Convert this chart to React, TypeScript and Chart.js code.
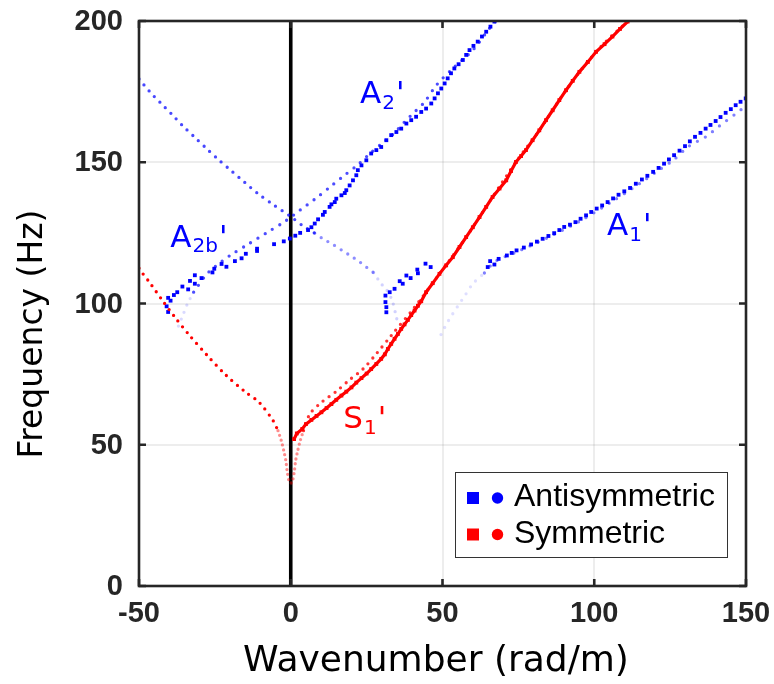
import React, { useEffect, useRef } from "react";
import { Chart, registerables } from "chart.js";
Chart.register(...registerables);

const xTicks = [-50, 0, 50, 100, 150];
const yTicks = [0, 50, 100, 150, 200];

// Antisymmetric, measured (squares)
const antiMeasA2 = [
  [-40.9, 99], [-40.4, 97], [-40.4, 102], [-39.6, 101], [-38.5, 103], [-37.4, 104], [-35.7, 106], [-33.8, 105],
  [-33.2, 108], [-31.6, 110], [-31.6, 107], [-29.4, 109], [-25.8, 111], [-25.2, 112.3], [-22.8, 114], [-21.2, 113],
  [-18.4, 115], [-16.2, 116], [-14.8, 117.6], [-11.1, 119.4], [-11.1, 118.6], [-5.5, 121], [-2.3, 122], [-0.3, 123],
  [1.5, 124], [3.1, 125], [5.7, 126], [6.8, 127], [7.9, 128.3], [9, 129.8], [10.6, 131.4], [11.2, 132.4],
  [12.8, 134.2], [13.4, 135.1], [14.5, 135.9], [15, 137.1], [16.7, 138.3], [17.8, 139.1], [18.3, 140.1], [19.4, 141.8],
  [20.5, 143.6], [21.6, 145.4], [22.1, 147.2], [23.3, 148.9], [24.9, 150.7], [26.5, 153.1], [28.2, 154.3], [29.8, 155.4],
  [31.5, 157.8], [33.1, 159.6], [34.8, 160.7], [36.4, 161.9], [38.1, 163.7], [39.7, 164.9], [41.3, 166.1], [43, 167.8],
  [44.6, 169], [46.3, 170.8], [47.4, 172.6], [48.5, 174.4], [49.6, 176.1], [50.7, 177.9], [51.7, 179.7], [52.8, 181.5],
  [53.9, 183.2], [55.3, 184.7], [56.7, 186.2], [57.8, 188], [58.9, 189.7], [60.2, 191.2], [61.6, 192.7], [63, 194.5],
  [64.4, 196.2], [65.8, 198], [67.1, 199.8],
];
const antiMeasA2Low = [
  [31.2, 102.8], [31.2, 100.5], [31.5, 98.7], [31.5, 96.9], [32.6, 104], [34.2, 105.2], [35.9, 107.9], [36.9, 107],
  [38.1, 109.9], [39.5, 109], [41.7, 112], [41.9, 110.7], [44.4, 114.1], [46.1, 112.9],
];
const antiMeasA1 = [
  [64.9, 112.9], [65.7, 115], [67.1, 113.8], [68.5, 115.8], [71.2, 117], [72.8, 117.9], [74.4, 118.8], [76.8, 119.8],
  [79.2, 120.9], [81.1, 121.9], [83, 122.9], [84.9, 123.9], [86.8, 124.9], [88.5, 126], [90.1, 127.1], [92, 127.9],
  [93.8, 128.8], [95.5, 130], [97.3, 131.2], [99, 132.4], [100.8, 133.6], [102.6, 134.7], [104.4, 135.9], [106.2, 137.2],
  [108, 138.5], [109.9, 139.7], [111.8, 140.9], [113.7, 142.4], [115.7, 143.9], [117.5, 145.2], [119.4, 146.6], [121.2, 148],
  [123, 149.5], [124.6, 151], [126.3, 152.5], [128.1, 154.1], [129.9, 155.7], [131.5, 157.4], [133.2, 159], [135, 160.4],
  [136.7, 161.9], [138.3, 163.2], [140, 164.6], [141.6, 166], [143.3, 167.5], [145, 168.8], [146.6, 170.2], [148.2, 171.4],
  [149.9, 172.6],
];

// Symmetric, measured (squares)
const symMeasS1 = [
  [1.1, 52], [2, 54], [3.8, 55.6], [5, 57.3], [6.8, 58.8], [8.5, 60.2], [10.1, 61.5], [11.8, 63], [13.4, 64.4],
  [15, 65.9], [16.7, 67.4], [18.3, 68.8], [20, 70.3], [21.6, 72], [23.3, 73.6], [25, 75.2], [26.5, 76.8], [28.2, 78.6],
  [29.8, 80.4], [31, 82], [32, 83.9], [33.1, 85.7], [34.2, 87.5], [35.3, 89.2], [36.4, 91], [37.5, 92.6], [38.6, 94.2],
  [39.7, 95.9], [40.8, 97.5], [41.9, 99.2], [43, 100.8], [44.6, 104], [46.8, 107.2], [49, 110.5], [51.2, 113.5],
  [53.4, 116.4], [55.6, 120], [57.8, 123.5], [60, 127], [62.2, 130.6], [64.4, 134.2], [66.5, 137.7], [68.8, 140.7],
  [71, 143.6], [72.6, 146.9], [74.2, 150.1], [75.9, 152.2], [77.5, 154.3], [79.7, 157.8], [81.9, 161.3], [84.1, 164.9],
  [86.3, 168.4], [88.5, 172], [90.7, 175.5], [92.9, 178.8], [95.1, 182], [97.9, 185.5], [100.6, 189.1], [103.4, 191.8],
  [106, 194.5], [108.5, 197.2], [111, 199.8], [112, 201],
];

// Antisymmetric, theory (dots)
const antiTheoA2AscFaint = [[-37, 92], [-35.5, 96], [-34, 100], [-32, 104]];
const antiTheoA2Asc = [
  [-32, 104], [-28, 110], [-25, 113], [-20, 117], [-14, 121], [-8, 125], [-2, 129], [3, 133], [8, 137], [13, 141.3],
  [17, 144.8], [22, 149], [26, 153], [30, 156.6], [34, 160.2], [37.5, 164.3], [41, 168], [44, 171.2], [48, 177.3],
  [53.4, 183.2], [60, 189.7], [65.5, 197.4], [68, 200.5],
];
const antiTheoA2Desc = [
  [-50, 179.5], [-46.4, 174.9], [-42.8, 170.9], [-39.2, 167], [-35.6, 162.9], [-31.8, 159], [-27.7, 154.8], [-23.9, 151],
  [-19.5, 146.9], [-15.2, 142.9], [-10.8, 138.9], [-5.8, 135], [-0.3, 131], [4, 127.5], [7.9, 124.9],
];
const antiTheoA2DescMid = [
  [7.9, 124.9], [10.6, 122.9], [13.9, 120.9], [16.9, 118.8], [19.7, 116.9], [22.5, 114.9], [24.9, 112.9], [27.3, 110.9],
];
const antiTheoA2DescFaint = [[27.3, 110.9], [29.8, 107], [31.5, 105], [33.4, 101.1], [34.8, 95.2], [35.5, 92]];
const antiTheoA1Faint = [[49.5, 89], [52, 94], [55, 99], [57.5, 103], [60, 107], [63.8, 110.8]];
const antiTheoA1 = [
  [63.8, 110.8], [67.4, 114.9], [75, 118.5], [85, 123.5], [95, 129], [105, 135.5], [115, 142.5], [121, 147],
  [126, 150.7], [131.2, 155.7], [136.7, 159], [141.3, 162.9], [146.4, 167], [150, 170],
];

// Symmetric, theory (dots)
const symTheoLeft = [
  [-50, 112.5], [-49.1, 111.1], [-46.2, 107], [-42.3, 101.1], [-38.2, 95.2], [-33.5, 88.9], [-27.5, 81.6],
  [-21.5, 74.8], [-15.1, 68.8], [-10.4, 65], [-5.8, 58.5], [-4.2, 55],
];
const symTheoCusp = [
  [-4.2, 55], [-3.1, 51.4], [-2.3, 47.9], [-1.6, 44.3], [-1.2, 40.8], [-0.4, 36.6], [0.4, 36.6], [1.2, 40.8],
  [1.6, 44.3], [2.3, 47.9], [3.1, 51.4], [4.2, 55],
];
const symTheoRight = [
  [4.2, 55], [6.3, 60.9], [10.1, 65], [15, 68.9], [19.4, 73], [23.8, 76.8], [28.2, 82.2], [33, 88.5], [40.8, 98.7],
  [49, 110.5], [57.8, 123.5], [66.5, 137.7], [74.2, 150.1], [81.9, 161.3], [90.7, 175.5], [100.6, 189.1], [111.5, 200.5],
];

// Curve labels: main letter, subscript, colour, anchor (data coords, baseline-left)
const curveLabels = [
  { main: "A", sub: "2", color: "#0000ff", x: 22.8, y: 170.8 },
  { main: "A", sub: "2b", color: "#0000ff", x: -39.7, y: 120.1 },
  { main: "A", sub: "1", color: "#0000ff", x: 104.2, y: 124.2 },
  { main: "S", sub: "1", color: "#ff0000", x: 17.3, y: 55.8 },
];

const legendItems = [
  { label: "Antisymmetric", color: "#0000ff" },
  { label: "Symmetric", color: "#ff0000" },
];

const toPts = (a: number[][]) => a.map(([x, y]) => ({ x, y }));

const BLUE = "#0000ff";
const RED = "#ff0000";

function theory(data: number[][], color: string, gap: number) {
  return {
    data: toPts(data),
    showLine: true,
    pointRadius: 0,
    borderColor: color,
    backgroundColor: color,
    borderWidth: 3.3,
    borderDash: [0, gap],
    borderCapStyle: "round",
    tension: 0.3,
    clip: 0,
  };
}
function measured(data: number[][], color: string, line = false) {
  return {
    data: toPts(data),
    showLine: line,
    borderColor: color,
    borderWidth: line ? 3.2 : 0,
    backgroundColor: color,
    pointStyle: "rect",
    pointRadius: 2.7,
    pointBorderWidth: 0,
    pointBackgroundColor: color,
    tension: 0,
    clip: 0,
  };
}

const TICK_FONT = "bold 29px 'Liberation Sans', Arial, sans-serif";

const decorPlugin = {
  id: "decor",
  beforeDatasetsDraw(chart: any) {
    const { ctx, chartArea: a, scales } = chart;
    const x0 = scales.x.getPixelForValue(0);
    ctx.save();
    ctx.strokeStyle = "#000";
    ctx.lineWidth = 3.6;
    ctx.beginPath();
    ctx.moveTo(x0, a.top);
    ctx.lineTo(x0, a.bottom);
    ctx.stroke();
    ctx.restore();
  },
  afterDatasetsDraw(chart: any) {
    const { ctx, scales } = chart;
    ctx.save();
    ctx.textBaseline = "alphabetic";
    ctx.textAlign = "left";
    for (const l of curveLabels) {
      const px = scales.x.getPixelForValue(l.x);
      const py = scales.y.getPixelForValue(l.y);
      ctx.fillStyle = l.color;
      ctx.font = "31px 'DejaVu Sans'";
      ctx.fillText(l.main, px, py);
      let w = ctx.measureText(l.main).width;
      ctx.font = "20px 'DejaVu Sans'";
      ctx.fillText(l.sub, px + w + 1, py + 5.5);
      w += ctx.measureText(l.sub).width + 2;
      ctx.font = "31px 'DejaVu Sans'";
      ctx.fillText("'", px + w, py);
    }
    ctx.restore();
  },
  afterDraw(chart: any) {
    const { ctx, chartArea: a, scales } = chart;
    ctx.save();
    // frame
    ctx.strokeStyle = "#262626";
    ctx.lineWidth = 2.6;
    ctx.strokeRect(a.left, a.top, a.right - a.left, a.bottom - a.top);
    // inward ticks
    const tl = 7;
    ctx.beginPath();
    for (const v of xTicks) {
      const px = scales.x.getPixelForValue(v);
      ctx.moveTo(px, a.bottom);
      ctx.lineTo(px, a.bottom - tl);
      ctx.moveTo(px, a.top);
      ctx.lineTo(px, a.top + tl);
    }
    for (const v of yTicks) {
      const py = scales.y.getPixelForValue(v);
      ctx.moveTo(a.left, py);
      ctx.lineTo(a.left + tl, py);
      ctx.moveTo(a.right, py);
      ctx.lineTo(a.right - tl, py);
    }
    ctx.stroke();

    // tick labels
    ctx.fillStyle = "#262626";
    ctx.font = TICK_FONT;
    ctx.textAlign = "right";
    ctx.textBaseline = "middle";
    for (const v of yTicks) {
      ctx.fillText(String(v), a.left - 16, scales.y.getPixelForValue(v) + 1);
    }
    ctx.textAlign = "center";
    ctx.textBaseline = "top";
    for (const v of xTicks) {
      ctx.fillText(String(v), scales.x.getPixelForValue(v), a.bottom + 13);
    }

    // axis titles
    ctx.fillStyle = "#000";
    ctx.textAlign = "center";
    ctx.textBaseline = "middle";
    ctx.font = "36px 'DejaVu Sans'";
    ctx.fillText("Wavenumber (rad/m)", 436, 662);
    ctx.font = "33px 'DejaVu Sans'";
    ctx.save();
    ctx.translate(33, 334);
    ctx.rotate(-Math.PI / 2);
    ctx.fillText("Frequency (Hz)", 0, 0);
    ctx.restore();

    // legend
    const lx = 455, ly = 472, lw = 272, lh = 85;
    ctx.fillStyle = "#fff";
    ctx.fillRect(lx, ly, lw, lh);
    ctx.strokeStyle = "#333";
    ctx.lineWidth = 1;
    ctx.strokeRect(lx + 0.5, ly + 0.5, lw, lh);
    legendItems.forEach((it, i) => {
      const cy = 498 + i * 36.5;
      ctx.fillStyle = it.color;
      ctx.fillRect(467, cy - 6, 12, 12);
      ctx.beginPath();
      ctx.arc(497.5, cy, 5.7, 0, Math.PI * 2);
      ctx.fill();
      ctx.fillStyle = "#000";
      ctx.font = "32px 'Liberation Sans', Arial, sans-serif";
      ctx.textAlign = "left";
      ctx.textBaseline = "alphabetic";
      ctx.fillText(it.label, 514, cy + 8);
    });
    ctx.restore();
  },
};

export default function App() {
  const ref = useRef<HTMLCanvasElement | null>(null);
  useEffect(() => {
    if (!ref.current) return;
    const chart = new Chart(ref.current, {
      type: "scatter",
      data: {
        datasets: [
          theory(antiTheoA2AscFaint, "rgba(0,0,255,0.15)", 7.5),
          theory(antiTheoA2Asc, "rgba(0,0,255,0.7)", 8.5),
          theory(antiTheoA2Desc, "rgba(0,0,255,0.72)", 7.8),
          theory(antiTheoA2DescMid, "rgba(0,0,255,0.45)", 7.8),
          theory(antiTheoA2DescFaint, "rgba(0,0,255,0.18)", 7.5),
          theory(antiTheoA1Faint, "rgba(0,0,255,0.13)", 8),
          theory(antiTheoA1, "rgba(0,0,255,0.5)", 9),
          theory(symTheoLeft, RED, 7.3),
          theory(symTheoCusp, "rgba(255,0,0,0.45)", 5),
          theory(symTheoRight, "rgba(255,0,0,0.8)", 7.3),
          measured(symMeasS1, RED, true),
          measured(antiMeasA2, BLUE),
          measured(antiMeasA2Low, BLUE),
          measured(antiMeasA1, BLUE),
        ] as any,
      },
      options: {
        animation: false,
        responsive: false,
        events: [],
        layout: { padding: { top: 21, right: 28, left: 0, bottom: 0 } },
        plugins: { legend: { display: false }, tooltip: { enabled: false } },
        scales: {
          x: {
            type: "linear",
            min: -50,
            max: 150,
            afterBuildTicks: (s: any) => {
              s.ticks = xTicks.map((v) => ({ value: v }));
            },
            afterFit: (s: any) => {
              s.height = 98;
            },
            grid: { color: "rgba(0,0,0,0.07)", lineWidth: 2, drawTicks: false },
            border: { display: false },
            ticks: { display: false },
          },
          y: {
            type: "linear",
            min: 0,
            max: 200,
            afterBuildTicks: (s: any) => {
              s.ticks = yTicks.map((v) => ({ value: v }));
            },
            afterFit: (s: any) => {
              s.width = 139;
            },
            grid: { color: "rgba(0,0,0,0.07)", lineWidth: 2, drawTicks: false },
            border: { display: false },
            ticks: { display: false },
          },
        },
      },
      plugins: [decorPlugin],
    });
    return () => chart.destroy();
  }, []);
  return (
    <div style={{ position: "absolute", left: 0, top: 0, width: 774, height: 684, background: "#fff" }}>
      <canvas ref={ref} width={774} height={684} style={{ display: "block" }} />
    </div>
  );
}
